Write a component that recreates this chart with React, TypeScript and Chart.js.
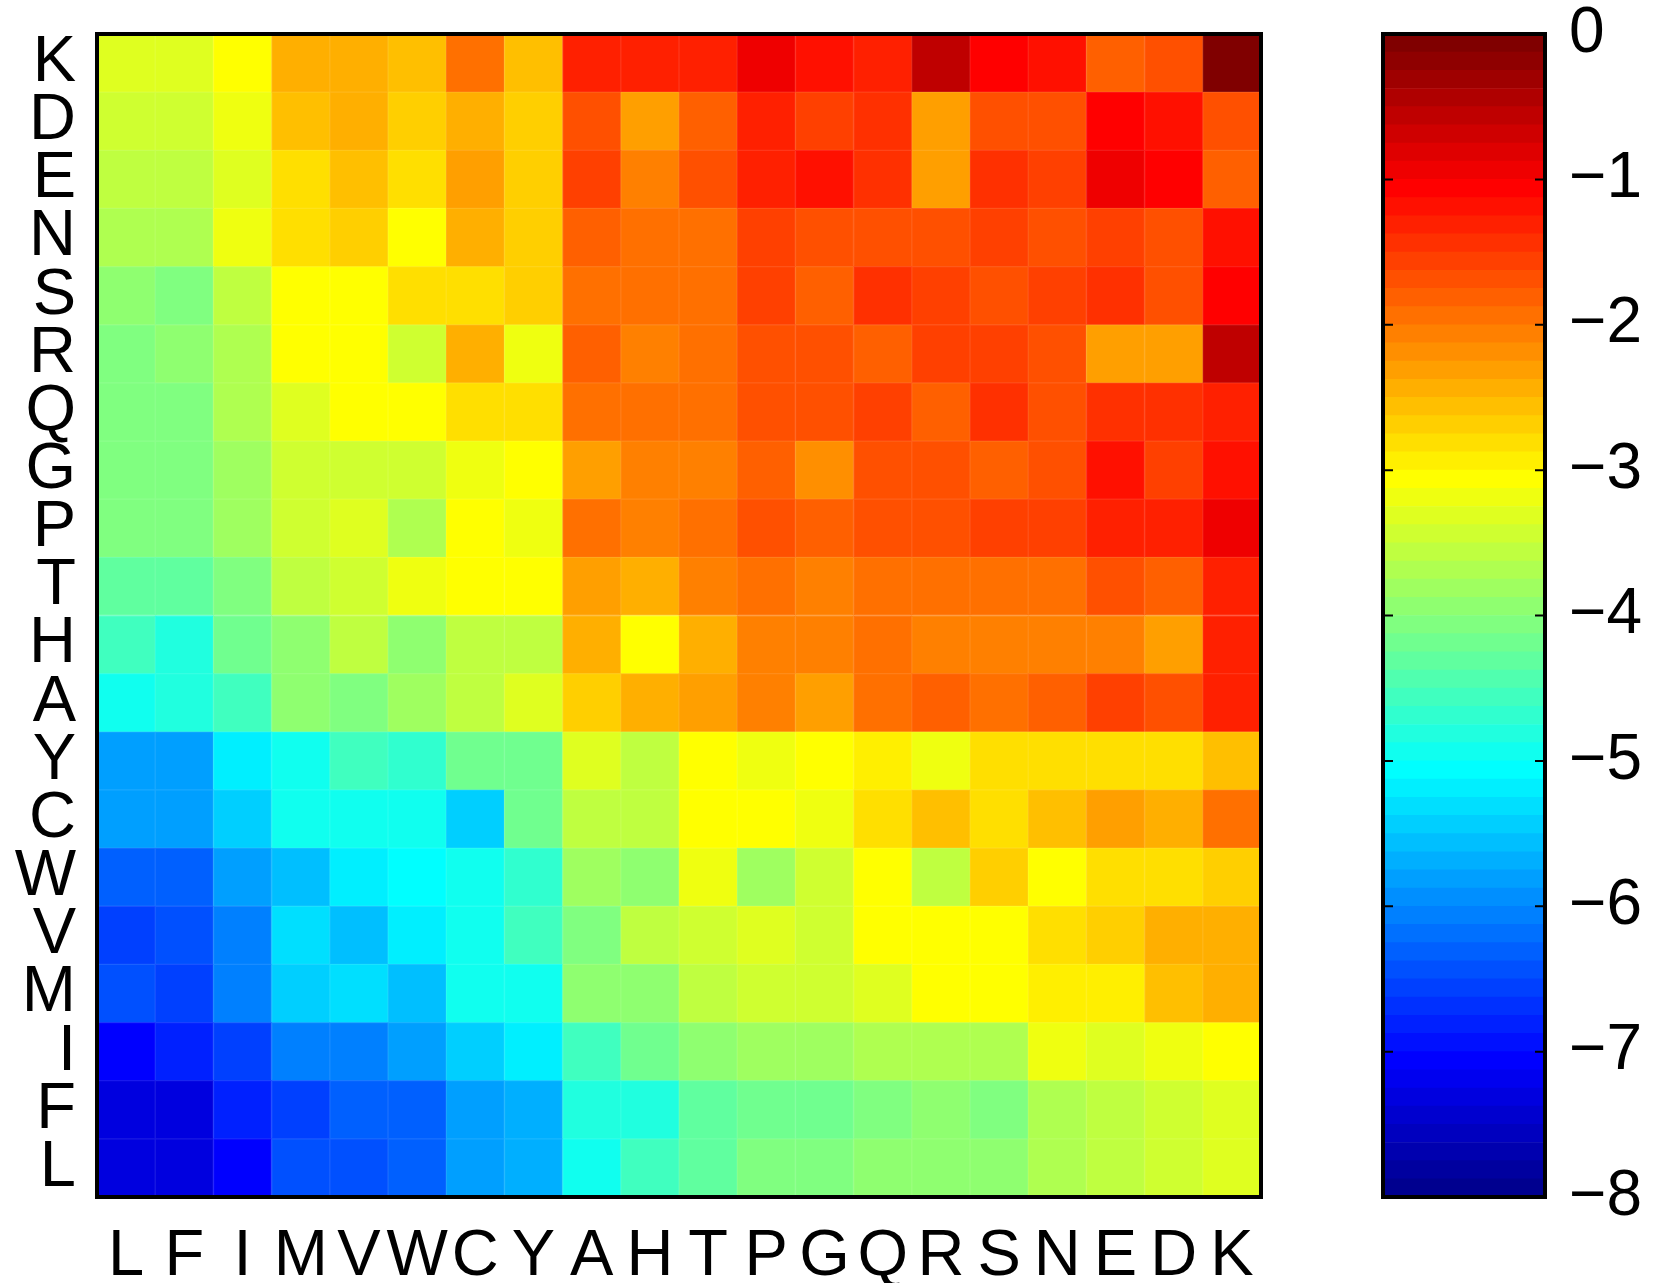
import React, { useEffect, useRef } from "react";
import { Chart, registerables } from "chart.js";

Chart.register(...registerables);

// Column labels (left → right)
const colLabels = ["L", "F", "I", "M", "V", "W", "C", "Y", "A", "H", "T", "P", "G", "Q", "R", "S", "N", "E", "D", "K"];
// Row labels (top → bottom)
const rowLabels = ["K", "D", "E", "N", "S", "R", "Q", "G", "P", "T", "H", "A", "Y", "C", "W", "V", "M", "I", "F", "L"];

// Cell values per row (columns in colLabels order)
const rowK = [-3.33, -3.33, -3.06, -2.40, -2.40, -2.62, -1.92, -2.53, -1.33, -1.33, -1.33, -0.88, -1.18, -1.33, -0.56, -1.06, -1.18, -1.86, -1.73, -0.06];
const rowD = [-3.46, -3.46, -3.19, -2.53, -2.40, -2.73, -2.40, -2.73, -1.73, -2.26, -1.86, -1.33, -1.59, -1.46, -2.26, -1.73, -1.73, -1.06, -1.19, -1.73];
const rowE = [-3.59, -3.59, -3.33, -2.86, -2.62, -2.86, -2.26, -2.73, -1.56, -2.12, -1.73, -1.33, -1.19, -1.46, -2.26, -1.46, -1.59, -0.93, -1.06, -1.86];
const rowN = [-3.73, -3.73, -3.19, -2.86, -2.73, -3.06, -2.46, -2.73, -1.82, -2.00, -1.94, -1.59, -1.73, -1.73, -1.73, -1.59, -1.73, -1.59, -1.73, -1.19];
const rowS = [-4.00, -4.06, -3.59, -3.06, -3.06, -2.80, -2.80, -2.73, -2.00, -2.00, -1.94, -1.59, -1.86, -1.39, -1.59, -1.73, -1.56, -1.46, -1.73, -1.06];
const rowR = [-4.06, -4.00, -3.73, -3.06, -3.06, -3.46, -2.46, -3.19, -1.82, -2.12, -1.94, -1.73, -1.69, -1.86, -1.56, -1.59, -1.73, -2.26, -2.26, -0.56];
const rowQ = [-4.06, -4.06, -3.73, -3.33, -3.06, -3.06, -2.80, -2.86, -1.92, -1.92, -1.94, -1.73, -1.69, -1.59, -1.82, -1.46, -1.73, -1.42, -1.46, -1.33];
const rowG = [-4.12, -4.12, -3.80, -3.46, -3.46, -3.46, -3.19, -3.06, -2.26, -2.12, -2.06, -1.86, -2.16, -1.73, -1.69, -1.82, -1.73, -1.19, -1.56, -1.23];
const rowP = [-4.12, -4.12, -3.80, -3.43, -3.33, -3.73, -3.06, -3.19, -2.00, -2.12, -1.94, -1.69, -1.82, -1.69, -1.69, -1.56, -1.56, -1.29, -1.29, -0.93];
const rowT = [-4.26, -4.26, -4.06, -3.59, -3.43, -3.19, -3.06, -3.06, -2.26, -2.40, -2.06, -1.94, -2.06, -1.94, -1.94, -1.94, -1.94, -1.73, -1.82, -1.33];
const rowH = [-4.52, -4.79, -4.18, -3.94, -3.56, -3.94, -3.56, -3.56, -2.40, -3.06, -2.40, -2.12, -2.12, -1.94, -2.12, -2.06, -2.06, -2.12, -2.26, -1.33];
const rowA = [-4.93, -4.79, -4.52, -3.94, -4.06, -3.80, -3.56, -3.33, -2.70, -2.40, -2.26, -2.06, -2.26, -1.94, -1.82, -2.00, -1.82, -1.56, -1.69, -1.33];
const rowY = [-5.80, -5.80, -5.19, -4.93, -4.52, -4.66, -4.18, -4.18, -3.33, -3.56, -3.06, -3.19, -3.06, -2.93, -3.19, -2.80, -2.80, -2.80, -2.80, -2.53];
const rowC = [-5.80, -5.80, -5.39, -4.93, -4.93, -4.93, -5.46, -4.18, -3.56, -3.56, -3.06, -3.06, -3.19, -2.80, -2.53, -2.80, -2.53, -2.26, -2.40, -1.92];
const rowW = [-6.26, -6.26, -5.86, -5.59, -5.19, -5.06, -4.93, -4.66, -3.80, -3.94, -3.19, -3.80, -3.43, -3.06, -3.56, -2.73, -3.06, -2.86, -2.80, -2.66];
const rowV = [-6.52, -6.39, -6.12, -5.32, -5.59, -5.19, -4.93, -4.52, -4.06, -3.56, -3.43, -3.33, -3.43, -3.06, -3.06, -3.06, -2.80, -2.66, -2.40, -2.40];
const rowM = [-6.39, -6.56, -6.12, -5.42, -5.32, -5.59, -4.93, -4.93, -3.94, -3.94, -3.56, -3.43, -3.43, -3.33, -3.06, -3.06, -2.93, -2.93, -2.53, -2.40];
const rowI = [-7.06, -6.79, -6.56, -6.06, -6.06, -5.86, -5.46, -5.19, -4.52, -4.18, -4.00, -3.80, -3.80, -3.73, -3.73, -3.68, -3.19, -3.33, -3.19, -3.06];
const rowF = [-7.32, -7.32, -6.79, -6.56, -6.26, -6.26, -5.80, -5.68, -4.79, -4.79, -4.26, -4.18, -4.18, -4.06, -4.00, -4.06, -3.73, -3.59, -3.43, -3.33];
const rowL = [-7.32, -7.32, -7.06, -6.44, -6.44, -6.26, -5.80, -5.68, -4.93, -4.52, -4.26, -4.12, -4.12, -4.00, -4.00, -3.94, -3.73, -3.56, -3.43, -3.33];

const rowsTopToBottom = [rowK, rowD, rowE, rowN, rowS, rowR, rowQ, rowG, rowP, rowT, rowH, rowA, rowY, rowC, rowW, rowV, rowM, rowI, rowF, rowL];

// Colour bar
const colorbarTicks = [0, -1, -2, -3, -4, -5, -6, -7, -8];
const colorMin = -8;
const colorMax = 0;
const colorLevels = 64;

const FONT = "'Liberation Sans', Arial, Helvetica, sans-serif";

// MATLAB jet(64), 1-based index
function jetRGB(i: number): [number, number, number] {
  const u = (j: number) => (j < 1 || j > 47 ? 0 : j <= 16 ? j / 16 : j <= 31 ? 1 : (48 - j) / 16);
  return [u(i - 24), u(i - 8), u(i + 8)];
}
function levelOf(v: number): number {
  const idx = Math.floor(((v - colorMin) / (colorMax - colorMin)) * colorLevels) + 1;
  return Math.max(1, Math.min(colorLevels, idx));
}
function rgbCss(rgb: [number, number, number], mixWhite = 0): string {
  const c = rgb.map((x) => Math.round((x * (1 - mixWhite) + mixWhite) * 255));
  return `rgb(${c[0]},${c[1]},${c[2]})`;
}
function jetCss(i: number): string {
  return rgbCss(jetRGB(i));
}
function colorOf(v: number): string {
  return rgbCss(jetRGB(levelOf(v)));
}
function seamOf(v: number): string {
  return rgbCss(jetRGB(levelOf(v)), 0.1);
}

export default function App() {
  const heatRef = useRef<HTMLCanvasElement>(null);
  const barRef = useRef<HTMLCanvasElement>(null);

  useEffect(() => {
    const bottomUp = [...rowsTopToBottom].reverse();
    const labelsBottomUp = [...rowLabels].reverse();

    const framePlugin = {
      id: "frame",
      afterDraw(chart: any) {
        const { ctx, chartArea: a } = chart;
        ctx.save();
        ctx.strokeStyle = "#000";
        ctx.lineWidth = 4;
        ctx.strokeRect(a.left, a.top, a.right - a.left, a.bottom - a.top);
        ctx.restore();
      },
    };

    const heat = new Chart(heatRef.current as HTMLCanvasElement, {
      type: "bar",
      data: {
        labels: colLabels,
        datasets: bottomUp.map((row, i) => ({
          label: labelsBottomUp[i],
          data: row.map(() => 1),
          backgroundColor: row.map(colorOf),
          borderColor: row.map(seamOf),
          borderWidth: 1,
          borderSkipped: false,
          barPercentage: 1,
          categoryPercentage: 1,
        })),
      },
      options: {
        responsive: false,
        animation: false,
        layout: { padding: { top: 34, right: 39, bottom: 0, left: 0 } },
        plugins: { legend: { display: false }, tooltip: { enabled: false } },
        scales: {
          x: {
            stacked: true,
            grid: { display: false, drawTicks: false },
            border: { display: false },
            ticks: { color: "#000", font: { family: FONT, size: 65 }, padding: 21, maxRotation: 0, autoSkip: false },
            afterFit: (s: any) => {
              s.height = 86;
              s.paddingLeft = 0;
              s.paddingRight = 0;
            },
          },
          y: {
            stacked: true,
            min: 0,
            max: 20,
            grid: { display: false, drawTicks: false },
            border: { display: false },
            afterBuildTicks: (s: any) => {
              s.ticks = labelsBottomUp.map((_, i) => ({ value: i + 0.5 }));
            },
            ticks: {
              color: "#000",
              font: { family: FONT, size: 65 },
              padding: 21,
              autoSkip: false,
              callback: (v: any) => labelsBottomUp[Math.floor(Number(v))],
            },
            afterFit: (s: any) => {
              s.width = 97;
              s.paddingTop = 0;
              s.paddingBottom = 0;
            },
          },
        },
      },
      plugins: [framePlugin],
    } as any);

    const levelEdges = Array.from({ length: colorLevels }, (_, k) => [
      colorMin + (k * (colorMax - colorMin)) / colorLevels,
      colorMin + ((k + 1) * (colorMax - colorMin)) / colorLevels,
    ]);

    const cbTicksPlugin = {
      id: "cbticks",
      afterDraw(chart: any) {
        const { ctx, chartArea: a } = chart;
        const ys = chart.scales.y;
        ctx.save();
        ctx.strokeStyle = "#000";
        ctx.lineWidth = 2;
        colorbarTicks.forEach((t) => {
          const y = ys.getPixelForValue(t);
          ctx.beginPath();
          ctx.moveTo(a.left, y);
          ctx.lineTo(a.left + 10, y);
          ctx.moveTo(a.right, y);
          ctx.lineTo(a.right - 10, y);
          ctx.stroke();
        });
        ctx.lineWidth = 4;
        ctx.strokeRect(a.left, a.top, a.right - a.left, a.bottom - a.top);
        ctx.restore();
      },
    };

    const bar = new Chart(barRef.current as HTMLCanvasElement, {
      type: "bar",
      data: {
        labels: [""],
        datasets: levelEdges.map((e, k) => ({
          data: [e],
          backgroundColor: jetCss(k + 1),
          borderWidth: 0,
          barPercentage: 1,
          categoryPercentage: 1,
          grouped: false,
        })),
      },
      options: {
        responsive: false,
        animation: false,
        layout: { padding: { top: 34, right: 0, bottom: 86, left: 83 } },
        plugins: { legend: { display: false }, tooltip: { enabled: false } },
        scales: {
          x: { display: false },
          y: {
            position: "right",
            min: colorMin,
            max: colorMax,
            grid: { display: false, drawTicks: false },
            border: { display: false },
            afterBuildTicks: (s: any) => {
              s.ticks = colorbarTicks.map((v) => ({ value: v }));
            },
            ticks: {
              color: "#000",
              font: { family: FONT, size: 64 },
              padding: 24,
              autoSkip: false,
              callback: (v: any) => {
                const n = Number(v);
                return n === 0 ? "0" : (n < 0 ? "\u2212" : "") + Math.abs(n);
              },
            },
            afterFit: (s: any) => {
              s.width = 119;
              s.paddingTop = 0;
              s.paddingBottom = 0;
            },
          },
        },
      },
      plugins: [cbTicksPlugin],
    } as any);

    return () => {
      heat.destroy();
      bar.destroy();
    };
  }, []);

  return (
    <div style={{ position: "absolute", left: 0, top: 0, width: 1664, height: 1283, background: "#fff" }}>
      <canvas
        ref={heatRef}
        width={1300}
        height={1283}
        style={{ position: "absolute", left: 0, top: 0, width: 1300, height: 1283 }}
      />
      <canvas
        ref={barRef}
        width={364}
        height={1283}
        style={{ position: "absolute", left: 1300, top: 0, width: 364, height: 1283 }}
      />
    </div>
  );
}
